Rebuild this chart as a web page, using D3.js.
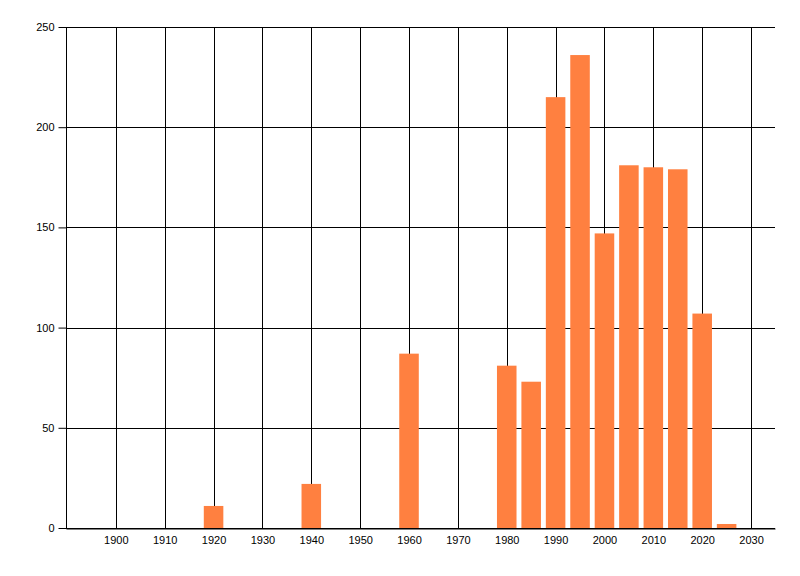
<!DOCTYPE html>
<html>
<head>
<meta charset="utf-8">
<script src="https://cdn.jsdelivr.net/npm/d3@7"></script>
<style>
  body { margin: 0; background: #fff; }
  text { font-family: "Liberation Sans", Arial, sans-serif; font-size: 11px; fill: #000; }
</style>
</head>
<body>
<svg id="chart" width="800" height="576"></svg>
<script>
// bar positions (year) and counts
let years = [1920, 1940, 1960, 1980, 1985, 1990, 1995, 2000, 2005, 2010, 2015, 2020, 2025];
let counts = [11, 22, 87, 81, 73, 215, 236, 147, 181, 180, 179, 107, 2];
let xTicks = [1900, 1910, 1920, 1930, 1940, 1950, 1960, 1970, 1980, 1990, 2000, 2010, 2020, 2030];
let yTicks = [0, 50, 100, 150, 200, 250];

let plotLeft = 66, plotRight = 775, plotTop = 27, plotBottom = 528;
let barWidth = 4; // in years

let svg = d3.select('#chart');

let x = d3.scaleLinear().domain([1889.8, 2034.9]).range([plotLeft, plotRight]);
let y = d3.scaleLinear().domain([0, 250]).range([plotBottom, plotTop]);

// vertical grid
svg.append('g')
  .selectAll('line')
  .data(xTicks)
  .join('line')
    .attr('x1', d => Math.round(x(d)) + 0.5)
    .attr('x2', d => Math.round(x(d)) + 0.5)
    .attr('y1', plotTop)
    .attr('y2', plotBottom)
    .attr('stroke', '#000')
    .attr('stroke-width', 1);

// horizontal grid
svg.append('g')
  .selectAll('line')
  .data(yTicks)
  .join('line')
    .attr('x1', plotLeft)
    .attr('x2', plotRight)
    .attr('y1', d => Math.round(y(d)) + 0.5)
    .attr('y2', d => Math.round(y(d)) + 0.5)
    .attr('stroke', '#000')
    .attr('stroke-width', 1);

// bars
svg.append('g')
  .selectAll('rect')
  .data(years)
  .join('rect')
    .attr('x', d => x(d - barWidth / 2))
    .attr('width', x(barWidth) - x(0))
    .attr('y', (d, i) => y(counts[i]))
    .attr('height', (d, i) => y(0) - y(counts[i]))
    .attr('fill', '#ff8040');

// y axis
let yAxis = d3.axisLeft(y)
  .tickValues(yTicks)
  .tickSize(8)
  .tickPadding(4);
let ga = svg.append('g')
  .attr('transform', 'translate(' + (plotLeft + 0.5) + ',0)')
  .call(yAxis);
ga.select('.domain').attr('stroke', '#000').attr('d', 'M0,' + plotTop + 'V' + (plotBottom + 0.5));
ga.selectAll('.tick line').attr('stroke', '#000');
ga.selectAll('text').attr('font-size', 11).attr('font-family', '"Liberation Sans", Arial, sans-serif');

// x axis
let xAxis = d3.axisBottom(x)
  .tickValues(xTicks)
  .tickFormat(d3.format('d'))
  .tickSize(0)
  .tickPadding(8);
let gx = svg.append('g')
  .attr('transform', 'translate(0,' + (plotBottom + 0.5) + ')')
  .call(xAxis);
gx.select('.domain').attr('stroke', '#000');
gx.selectAll('text').attr('font-size', 11).attr('font-family', '"Liberation Sans", Arial, sans-serif');
</script>
</body>
</html>
